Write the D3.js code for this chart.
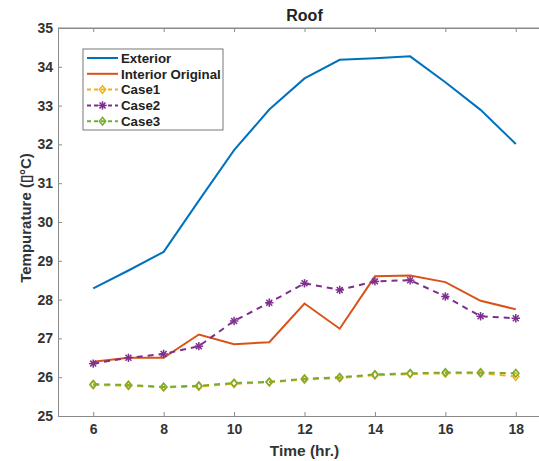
<!DOCTYPE html>
<html><head><meta charset="utf-8">
<script src="https://cdn.jsdelivr.net/npm/d3@7"></script>
<style>body{margin:0;background:#fff}svg{display:block}text{font-family:"Liberation Sans",Arial,sans-serif}</style>
</head><body>
<svg id="c" width="539" height="461"></svg>
<script>
const hours = [6,7,8,9,10,11,12,13,14,15,16,17,18];
const exterior = [28.29,28.75,29.23,30.55,31.85,32.9,33.7,34.18,34.22,34.27,33.6,32.89,32.01];
const interiorOriginal = [26.4,26.5,26.5,27.1,26.85,26.9,27.9,27.25,28.6,28.62,28.45,27.97,27.75];
const case1 = [25.8,25.78,25.74,25.76,25.83,25.87,25.94,25.98,26.05,26.08,26.1,26.1,26.02];
const case2 = [26.35,26.5,26.6,26.8,27.45,27.92,28.42,28.25,28.47,28.5,28.08,27.57,27.52];
const case3 = [25.82,25.8,25.75,25.78,25.85,25.88,25.96,26.0,26.07,26.1,26.12,26.12,26.1];
const xTicks = [6,8,10,12,14,16,18];
const yTicks = [25,26,27,28,29,30,31,32,33,34,35];
const seriesNames = ["Exterior","Interior Original","Case1","Case2","Case3"];
const seriesColors = ["#0072BD","#D95319","#EDB120","#7E2F8E","#77AC30"];

const svg = d3.select("#c");
const x = d3.scaleLinear().domain([5,19]).range([58,551]);
const y = d3.scaleLinear().domain([25,35]).range([416,28]);
const axisColor = "#8a8a8a";

svg.append("line").attr("x1",58).attr("x2",551).attr("y1",28).attr("y2",28).attr("stroke",axisColor);
svg.append("line").attr("x1",551).attr("x2",551).attr("y1",28).attr("y2",416).attr("stroke",axisColor);

const gx = svg.append("g").attr("transform","translate(0,416)")
  .call(d3.axisBottom(x).tickValues(xTicks).tickSize(-4).tickPadding(8));
const gy = svg.append("g").attr("transform","translate(58,0)")
  .call(d3.axisLeft(y).tickValues(yTicks).tickSize(-4).tickPadding(5));
const gxt = svg.append("g").attr("transform","translate(0,28)")
  .call(d3.axisTop(x).tickValues(xTicks).tickSize(-4).tickFormat(""));
[gx,gy,gxt].forEach(g=>{
  g.select(".domain").attr("stroke",axisColor);
  g.selectAll(".tick line").attr("stroke",axisColor);
  g.selectAll(".tick text").attr("fill","#333").style("font-size","14px").style("font-weight","bold");
});

const line = d3.line().x((d,i)=>x(hours[i])).y(d=>y(d));
const data = [exterior,interiorOriginal,case1,case2,case3];
const dashes = [null,null,"6,5","6,5","6,5"];
data.forEach((s,k)=>{
  svg.append("path").datum(s).attr("d",line).attr("fill","none")
    .attr("stroke",seriesColors[k]).attr("stroke-width",2)
    .attr("stroke-dasharray",dashes[k]);
});

function diamond(g,cx,cy,col){
  g.append("path").attr("d",`M${cx-3.2},${cy}L${cx},${cy-3.8}L${cx+3.2},${cy}L${cx},${cy+3.8}Z`)
   .attr("fill","none").attr("stroke",col).attr("stroke-width",1.5);
}
function star(g,cx,cy,col){
  const r=4.2;
  [0,45,90,135].forEach(a=>{
    const rad=a*Math.PI/180;
    g.append("line").attr("x1",cx-r*Math.cos(rad)).attr("y1",cy-r*Math.sin(rad))
     .attr("x2",cx+r*Math.cos(rad)).attr("y2",cy+r*Math.sin(rad))
     .attr("stroke",col).attr("stroke-width",1.5);
  });
}
const mk = svg.append("g");
case1.forEach((v,i)=>diamond(mk,x(hours[i]),y(v),seriesColors[2]));
case3.forEach((v,i)=>diamond(mk,x(hours[i]),y(v),seriesColors[4]));
case2.forEach((v,i)=>star(mk,x(hours[i]),y(v),seriesColors[3]));

svg.append("text").attr("x",304.5).attr("y",21).attr("text-anchor","middle")
  .style("font-size","16px").style("font-weight","bold").attr("fill","#222").text("Roof");
svg.append("text").attr("x",304.5).attr("y",456).attr("text-anchor","middle")
  .style("font-size","15.5px").style("font-weight","bold").attr("fill","#333").text("Time (hr.)");
svg.append("text").attr("transform","translate(31,218) rotate(-90)").attr("text-anchor","middle")
  .style("font-size","15px").style("font-weight","bold").attr("fill","#333").text("Tempurature (\u25AF°C)");

const lg = svg.append("g");
lg.append("rect").attr("x",83).attr("y",49).attr("width",140).attr("height",81)
  .attr("fill","#fff").attr("stroke","#555").attr("stroke-width",0.8);
seriesNames.forEach((n,k)=>{
  const yy = 58 + k*15.8;
  lg.append("line").attr("x1",87).attr("x2",118).attr("y1",yy).attr("y2",yy)
    .attr("stroke",seriesColors[k]).attr("stroke-width",2).attr("stroke-dasharray",dashes[k]?"4,3":null);
  if(k===2||k===4) diamond(lg,102.5,yy,seriesColors[k]);
  if(k===3) star(lg,102.5,yy,seriesColors[k]);
  lg.append("text").attr("x",121).attr("y",yy+4.8).style("font-size","13.3px").style("font-weight","bold")
    .attr("fill","#222").text(n);
});
</script>
</body></html>
